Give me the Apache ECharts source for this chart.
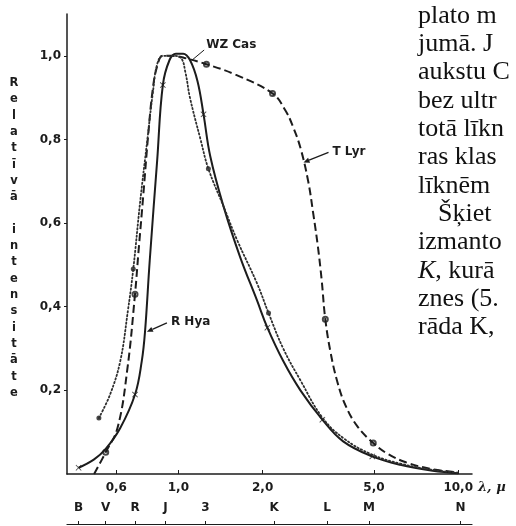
<!DOCTYPE html>
<html>
<head>
<meta charset="utf-8">
<script src="https://cdn.jsdelivr.net/npm/echarts@6/dist/echarts.min.js"></script>
<style>
  html, body { margin: 0; padding: 0; background: #fff; }
  #chart { width: 516px; height: 526px; }
</style>
</head>
<body>
<div id="chart"></div>
<script>
// dati nolasīti no attēla (viļņa garums mikronos, relatīvā intensitāte)
const rHyaLambda = [0.44, 0.50, 0.55, 0.62, 0.70, 0.74, 0.76, 0.79, 0.84, 0.88, 0.93, 0.98, 1.04, 1.10, 1.17, 1.23, 1.30, 1.45, 1.66, 1.91, 2.08, 2.37, 2.73, 3.27, 3.88, 4.93, 6.2, 8.1, 10.0]
const rHyaValue = [0.015, 0.035, 0.06, 0.11, 0.19, 0.27, 0.34, 0.51, 0.75, 0.93, 0.99, 1.005, 1.005, 0.99, 0.94, 0.86, 0.76, 0.64, 0.52, 0.415, 0.35, 0.27, 0.20, 0.13, 0.078, 0.042, 0.022, 0.008, 0.002]

const wzLambda = [0.52, 0.57, 0.62, 0.66, 0.69, 0.73, 0.775, 0.81, 0.84, 0.88, 0.95, 1.02, 1.06, 1.10, 1.20, 1.28, 1.45, 1.62, 1.91, 2.10, 2.37, 2.73, 3.27, 3.9, 4.9, 6.2, 8.1, 10.0]
const wzValue = [0.134, 0.19, 0.27, 0.39, 0.49, 0.65, 0.80, 0.91, 0.98, 1.0, 1.0, 0.995, 0.96, 0.90, 0.80, 0.73, 0.64, 0.56, 0.456, 0.385, 0.30, 0.224, 0.135, 0.085, 0.047, 0.025, 0.01, 0.003]

const tLyrLambda = [0.50, 0.55, 0.606, 0.657, 0.70, 0.72, 0.75, 0.78, 0.81, 0.84, 0.88, 0.95, 1.05, 1.26, 1.6, 2.17, 2.41, 2.57, 2.73, 2.91, 3.03, 3.15, 3.25, 3.35, 3.50, 3.70, 3.95, 4.35, 4.97, 5.6, 6.5, 8.0, 10.0]
const tLyrValue = [0.0, 0.052, 0.11, 0.25, 0.43, 0.53, 0.67, 0.81, 0.92, 0.975, 1.0, 1.0, 0.995, 0.98, 0.955, 0.91, 0.87, 0.83, 0.78, 0.70, 0.625, 0.545, 0.465, 0.37, 0.29, 0.22, 0.165, 0.115, 0.074, 0.048, 0.028, 0.012, 0.004]

// mērījumu punkti (marķieri)
const rHyaMarkLambda = [0.44, 0.70, 0.88, 1.23, 2.08, 3.27, 4.93]
const rHyaMarkValue = [0.015, 0.19, 0.93, 0.86, 0.35, 0.13, 0.042]
const tLyrMarkLambda = [0.55, 0.70, 1.26, 2.17, 3.35, 4.97]
const tLyrMarkValue = [0.052, 0.43, 0.98, 0.91, 0.37, 0.074]
const wzMarkLambda = [0.52, 0.69, 1.28, 2.10]
const wzMarkValue = [0.134, 0.49, 0.73, 0.385]

// ass iedaļas
const xTicks = [0.6, 1.0, 2.0, 5.0, 10.0]
const yTicks = [0.2, 0.4, 0.6, 0.8, 1.0]
const bandWl = [0.44, 0.55, 0.70, 0.90, 1.25, 2.2, 3.4, 4.8, 10.2]
const bandNames = ['B', 'V', 'R', 'J', '3', 'K', 'L', 'M', 'N']

const yTitle = 'Relatīvā intensitāte'

const textLines = ['plato m', 'jumā. J', 'aukstu C', 'bez ultr', 'totā līkn', 'ras klas', 'līknēm', 'Šķiet', 'izmanto', '{i|K}, kurā', 'znes (5.', 'rāda K,']

const ink = '#1c1c1c'
const labelFont = { fontFamily: 'DejaVu Sans', fontSize: 12, fontWeight: 'bold', color: ink }
const comma = v => Number(v).toFixed(1).replace('.', ',')
const pairs = (xs, ys) => xs.map((x, i) => [x, ys[i]])
const crossSymbol = 'path://M1,0L5,4L9,0L10,1L6,5L10,9L9,10L5,6L1,10L0,9L4,5L0,1Z'

const chart = echarts.init(document.getElementById('chart'))

const option = {
  animation: false,
  backgroundColor: '#fff',
  grid: { left: 67, right: 44, top: 14, bottom: 52 },
  xAxis: [
    {
      type: 'log',
      min: 0.4,
      max: 11.2,
      axisLine: { lineStyle: { color: ink, width: 1.5 } },
      axisTick: { inside: true, length: 4, customValues: xTicks, lineStyle: { color: ink } },
      axisLabel: Object.assign({ customValues: xTicks, formatter: comma, margin: 8 }, labelFont),
      splitLine: { show: false },
    },
    {
      type: 'log',
      min: 0.4,
      max: 11.2,
      position: 'bottom',
      offset: 50,
      axisLine: { show: true, lineStyle: { color: ink, width: 1.2 } },
      axisTick: { show: true, inside: true, length: 3, customValues: bandWl, lineStyle: { color: ink } },
      axisLabel: Object.assign({
        inside: true,
        margin: 10,
        customValues: bandWl,
        formatter: v => {
          let best = 0
          bandWl.forEach((b, i) => { if (Math.abs(Math.log(b / v)) < Math.abs(Math.log(bandWl[best] / v))) best = i })
          return bandNames[best]
        },
      }, labelFont),
      splitLine: { show: false },
    },
  ],
  yAxis: {
    type: 'value',
    min: 0,
    max: 1.1,
    axisLine: { show: true, lineStyle: { color: ink, width: 1.5 } },
    axisTick: { show: true, length: 3, customValues: yTicks, lineStyle: { color: ink } },
    axisLabel: Object.assign({ customValues: yTicks, formatter: comma, margin: 6 }, labelFont),
    splitLine: { show: false },
  },
  series: [
    {
      name: 'R Hya',
      type: 'line',
      smooth: 0.4,
      showSymbol: false,
      data: pairs(rHyaLambda, rHyaValue),
      lineStyle: { color: ink, width: 2 },
    },
    {
      name: 'T Lyr',
      type: 'line',
      smooth: 0.4,
      showSymbol: false,
      data: pairs(tLyrLambda, tLyrValue),
      lineStyle: { color: ink, width: 2, type: [8, 4] },
    },
    {
      name: 'WZ Cas',
      type: 'line',
      smooth: 0.4,
      showSymbol: false,
      data: pairs(wzLambda, wzValue),
      lineStyle: { color: '#2e2e2e', width: 1.8, type: [1.4, 2.4], cap: 'round' },
    },
    {
      type: 'scatter',
      symbol: crossSymbol,
      symbolSize: 6,
      data: pairs(rHyaMarkLambda, rHyaMarkValue),
      itemStyle: { color: ink },
    },
    {
      type: 'scatter',
      symbol: 'emptyCircle',
      symbolSize: 5,
      data: pairs(tLyrMarkLambda, tLyrMarkValue),
      itemStyle: { color: ink, borderColor: ink, borderWidth: 1.2 },
    },
    {
      type: 'scatter',
      symbol: 'circle',
      symbolSize: 5,
      data: pairs(wzMarkLambda, wzMarkValue),
      itemStyle: { color: ink },
    },
  ],
}

chart.setOption(option)

// uzraksti un bultiņas
const px = p => chart.convertToPixel({ xAxisIndex: 0, yAxisIndex: 0 }, p)

const arrow = (from, to, head) => {
  const dx = to[0] - from[0], dy = to[1] - from[1]
  const len = Math.hypot(dx, dy)
  const ux = dx / len, uy = dy / len
  const bx = to[0] - ux * head, by = to[1] - uy * head
  const w = head * 0.45
  return [
    { type: 'line', shape: { x1: from[0], y1: from[1], x2: bx, y2: by }, style: { stroke: ink, lineWidth: 1.3 } },
    { type: 'polygon', shape: { points: [to, [bx - uy * w, by + ux * w], [bx + uy * w, by - ux * w]] }, style: { fill: ink } },
  ]
}

const seriesLabel = (text, x, y) => ({
  type: 'text', x: x, y: y,
  style: { text: text, fontFamily: 'DejaVu Sans', fontSize: 12, fontWeight: 'bold', fill: ink, verticalAlign: 'middle' },
})

const tTip = px([2.8, 0.745])
const rTip = px([0.772, 0.34])
const wzTip = px([1.12, 0.99])

const graphics = []
graphics.push(seriesLabel('T Lyr', tTip[0] + 29, tTip[1] - 11))
graphics.push(...arrow([tTip[0] + 25, tTip[1] - 10], tTip, 6))
graphics.push(seriesLabel('R Hya', rTip[0] + 24, rTip[1] - 10))
graphics.push(...arrow([rTip[0] + 20, rTip[1] - 9], rTip, 6))
graphics.push(seriesLabel('WZ Cas', wzTip[0] + 14, wzTip[1] - 15))
graphics.push({ type: 'line', shape: { x1: wzTip[0] + 12, y1: wzTip[1] - 10, x2: wzTip[0], y2: wzTip[1] }, style: { stroke: ink, lineWidth: 1 } })

// ass nosaukums burtu stabiņā
graphics.push({
  type: 'text', x: 14, y: 75,
  style: {
    text: yTitle.split('').join('\n'),
    fontFamily: 'DejaVu Sans', fontSize: 11.5, fontWeight: 'bold', fill: ink,
    lineHeight: 16.3, align: 'center',
  },
})

graphics.push({
  type: 'text', x: 478, y: 488,
  style: { text: 'λ, µ', fontFamily: 'DejaVu Serif', fontSize: 13, fontStyle: 'italic', fontWeight: 'bold', fill: ink, verticalAlign: 'middle' },
})

// grāmatas teksta fragments labajā pusē
textLines.forEach((line, i) => {
  graphics.push({
    type: 'text', x: i === 7 ? 438 : 418, y: 16 + i * 28.3,
    style: {
      text: line,
      fontFamily: 'Liberation Serif', fontSize: 26, fill: '#111', verticalAlign: 'middle',
      rich: { i: { fontFamily: 'Liberation Serif', fontSize: 26, fontStyle: 'italic', fill: '#111' } },
    },
  })
})

chart.setOption({ graphic: graphics })
</script>
</body>
</html>
